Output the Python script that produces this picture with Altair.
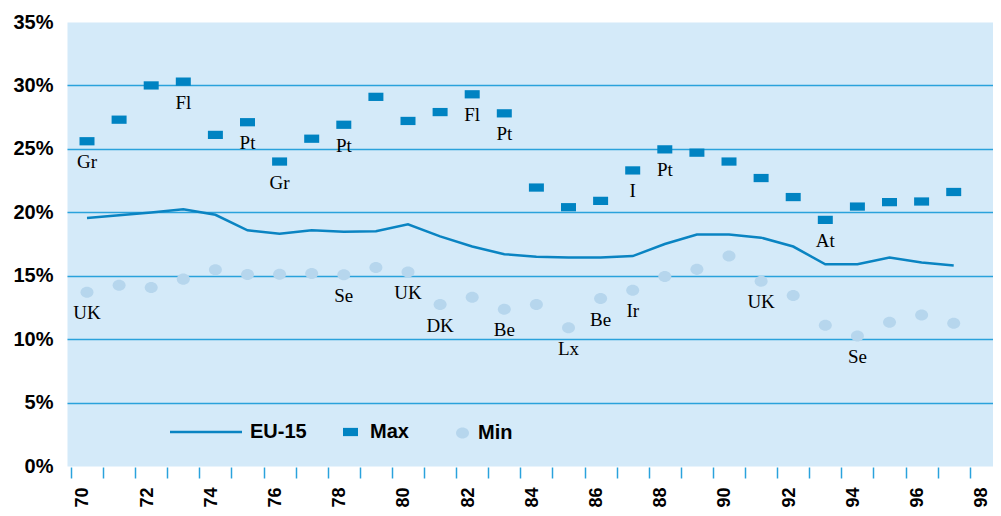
import altair as alt
import pandas as pd

# ---- data ----
years = list(range(1970, 1998))
eu15 = [19.55, 19.76, 19.98, 20.24, 19.8, 18.58, 18.3, 18.58, 18.47, 18.5,
        19.05, 18.1, 17.3, 16.7, 16.5, 16.44, 16.44, 16.55, 17.5, 18.24,
        18.24, 18.0, 17.3, 15.9, 15.9, 16.44, 16.05, 15.8]
max_vals = [25.6, 27.3, 30.0, 30.3, 26.1, 27.1, 24.0, 25.8, 26.9, 29.1,
            27.2, 27.9, 29.3, 27.8, 21.95, 20.4, 20.9, 23.3, 24.96, 24.7,
            24.0, 22.7, 21.2, 19.4, 20.45, 20.8, 20.85, 21.6]
min_vals = [13.7, 14.25, 14.07, 14.73, 15.47, 15.1, 15.12, 15.18, 15.07, 15.65,
            15.3, 12.73, 13.3, 12.36, 12.73, 10.9, 13.2, 13.86, 14.94, 15.5,
            16.55, 14.57, 13.44, 11.1, 10.25, 11.33, 11.9, 11.25]
max_labels = ["Gr", "", "", "Fl", "", "Pt", "Gr", "", "Pt", "",
              "", "", "Fl", "Pt", "", "", "", "I", "Pt", "",
              "", "", "", "At", "", "", "", ""]
min_labels = ["UK", "", "", "", "", "", "", "", "Se", "",
              "UK", "DK", "", "Be", "", "Lx", "Be", "Ir", "", "",
              "", "UK", "", "", "Se", "", "", ""]
y_ticks = [0, 5, 10, 15, 20, 25, 30, 35]
x_tick_edges = [yr - 0.5 for yr in range(1970, 1999)]

# ---- styles ----
BG = "#d4eaf9"
LINE_C = "#0a84c2"
MAX_C = "#0083c2"
MIN_C = "#b6d6ed"
GRID_C = "#2aa2dc"
SANS = "Liberation Sans"
SERIF = "Liberation Serif"
SQUARE = "M-1,-0.55L1,-0.55L1,0.55L-1,0.55Z"
ELLIPSE = "M-1,0A1,0.85,0,1,1,1,0A1,0.85,0,1,1,-1,0Z"

rows = []
for i, yr in enumerate(years):
    rows.append({"year": yr, "value": eu15[i], "series": "EU-15", "label": ""})
    rows.append({"year": yr, "value": max_vals[i], "series": "Max", "label": max_labels[i]})
    rows.append({"year": yr, "value": min_vals[i], "series": "Min", "label": min_labels[i]})
df = pd.DataFrame(rows)

x = alt.X(
    "year:Q",
    scale=alt.Scale(domain=[1969.377, 1998.224], nice=False, zero=False),
    axis=alt.Axis(
        title=None, values=x_tick_edges, grid=False, domain=False,
        offset=1, tickSize=11, tickWidth=1.5, tickColor=GRID_C,
        labelExpr="(datum.value + 0.5) % 2 == 0 ? format((datum.value + 0.5) % 100, '02d') : ''",
        labelAngle=270, labelAlign="right", labelBaseline="middle",
        labelPadding=9, labelOffset=12, labelFont=SANS, labelFontSize=18,
        labelFontWeight="bold", labelColor="black", labelOverlap=False,
        labelFlush=False, labelBound=False,
    ),
)
y = alt.Y(
    "value:Q",
    scale=alt.Scale(domain=[0, 35], nice=False),
    axis=alt.Axis(
        title=None, values=y_ticks, ticks=False, domain=False,
        labelExpr="datum.value + '%'", labelPadding=14, labelFont=SANS,
        labelFontSize=20, labelFontWeight="bold", labelColor="black",
        grid=True, gridColor=GRID_C, gridWidth=1.3,
        gridOpacity={"condition": {"test": "datum.value == 0 || datum.value == 35", "value": 0}, "value": 1},
        labelOverlap=False,
    ),
)

leg_common = dict(orient="none", title=None, padding=0, labelFont=SANS,
                  labelFontSize=20, labelFontWeight="bold", labelColor="black")

base = alt.Chart(df)

line = base.transform_filter(alt.datum.series == "EU-15").mark_line(strokeWidth=2.5).encode(
    x=x, y=y,
    stroke=alt.Stroke("series:N", scale=alt.Scale(domain=["EU-15"], range=[LINE_C]),
                      legend=alt.Legend(legendX=101.5, legendY=372.5, symbolType="stroke",
                                        symbolSize=5184, symbolStrokeWidth=2.5,
                                        labelOffset=6.5, **leg_common)),
)

maxp = base.transform_filter(alt.datum.series == "Max").mark_point(
    filled=True, opacity=1, size=225, strokeWidth=0, shape=SQUARE
).encode(
    x=x, y=y,
    fill=alt.Fill("series:N", scale=alt.Scale(domain=["Max"], range=[MAX_C]),
                  legend=alt.Legend(legendX=273.5, legendY=400, symbolType=SQUARE,
                                    symbolSize=225, symbolStrokeWidth=0,
                                    labelOffset=9.5, **leg_common)),
)

minp = base.transform_filter(alt.datum.series == "Min").mark_point(
    filled=True, opacity=1, size=169, strokeWidth=0, color=MIN_C
).encode(
    x=x, y=y,
    shape=alt.Shape("series:N", scale=alt.Scale(domain=["Min"], range=[ELLIPSE]),
                    legend=alt.Legend(legendX=385.5, legendY=401, symbolSize=169,
                                      symbolStrokeWidth=0, symbolFillColor=MIN_C,
                                      labelOffset=5.5, **leg_common)),
)

labels = base.transform_filter(alt.datum.label != "").mark_text(
    font=SERIF, fontSize=19, dy=27, baseline="alphabetic", align="center", color="black"
).encode(x=x, y=y, text="label:N")

chart = alt.layer(line, maxp, minp, labels).properties(
    width=926, height=444,
    padding={"left": 59, "top": 14, "right": 0, "bottom": 42},
    autosize=alt.AutoSizeParams(type="none"),
).configure_view(fill=BG, stroke="transparent")

chart.save("out.html", embed_options={"renderer": "svg", "actions": False})
